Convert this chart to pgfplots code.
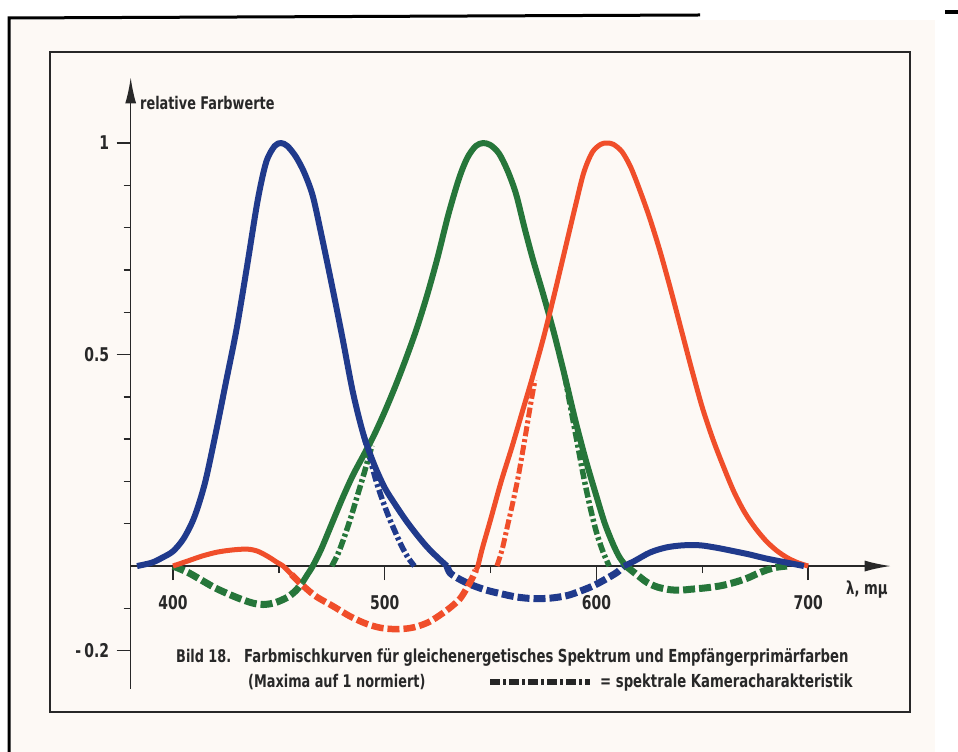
\documentclass[border=0pt]{standalone}
\usepackage{fontspec}
\setmainfont{DejaVu Sans Condensed}[FakeStretch=0.82]
\usepackage{pgfplots}
\usepackage{pgfplotstable}
\pgfplotsset{compat=1.18}
\usetikzlibrary{arrows.meta}
\definecolor{cblue}{RGB}{32,58,140}
\definecolor{cgreen}{RGB}{38,118,58}
\definecolor{cred}{RGB}{240,78,42}
\definecolor{paper}{RGB}{253,249,245}
\definecolor{ink}{RGB}{40,40,40}

\pgfplotstableread{
x y
383 0
390 0.008
395 0.02
400 0.035
405 0.065
410 0.115
415 0.195
420 0.31
425 0.435
430 0.56
435 0.71
440 0.865
444 0.955
448 0.993
451 1.0
454 0.993
458 0.968
462 0.93
466 0.875
470 0.785
475 0.665
480 0.54
485 0.41
490 0.31
495 0.24
500 0.185
505 0.145
510 0.108
515 0.075
520 0.045
525 0.02
529.4 0
}\bluesolidA
\pgfplotstableread{
x y
529.4 0
531 -0.017
536 -0.033
541.7 -0.046
548 -0.057
554.5 -0.065
562 -0.073
570 -0.077
578 -0.076
586 -0.07
592 -0.06
598.4 -0.047
604 -0.032
609.7 -0.015
613 0
}\bluedash
\pgfplotstableread{
x y
613 0
618 0.012
625.3 0.032
633 0.044
641 0.049
649 0.049
657 0.043
665 0.035
672.6 0.027
680 0.018
688 0.01
694 0.004
698 0
}\bluesolidB
\pgfplotstableread{
x y
490 0.31
493 0.255
496 0.2
499 0.155
502 0.115
505 0.08
508 0.047
511 0.02
514 0
}\bluecam
\pgfplotstableread{
x y
400 0
407 -0.015
414 -0.035
420 -0.052
427 -0.068
433 -0.08
438 -0.088
442.5 -0.091
448 -0.087
454 -0.074
458 -0.058
461 -0.04
}\greendashA
\pgfplotstableread{
x y
461 -0.04
463.5 -0.02
466 0
470 0.04
475 0.1
480 0.16
485 0.215
490 0.262
495 0.31
500 0.365
505 0.425
510 0.49
515 0.56
520 0.64
525 0.73
530 0.83
535 0.915
539 0.965
543 0.993
546.5 1.0
550 0.995
554 0.975
558 0.935
562 0.88
566 0.8
570 0.725
575 0.64
580 0.55
585 0.45
590 0.345
595 0.25
600 0.165
604 0.1
608 0.05
611 0.02
614 0
}\greensolid
\pgfplotstableread{
x y
614 0
619 -0.02
624 -0.039
629 -0.05
634.8 -0.056
640 -0.057
644.3 -0.055
651 -0.052
658.4 -0.047
665 -0.039
671.1 -0.029
676 -0.018
680.6 -0.009
685 -0.003
690 0
}\greendashB
\pgfplotstableread{
x y
475 0
478 0.03
481 0.07
484 0.115
487 0.165
490 0.215
492 0.25
494 0.285
}\greencamA
\pgfplotstableread{
x y
585 0.45
588 0.37
591 0.29
594 0.21
597 0.14
600 0.08
603 0.035
606 0
}\greencamB
\pgfplotstableread{
x y
400 0
407 0.012
414 0.024
421 0.033
428 0.038
435 0.04
440 0.035
445 0.022
449 0.009
452 0
456 -0.02
}\redsolidA
\pgfplotstableread{
x y
456 -0.02
460 -0.04
467 -0.07
475.6 -0.095
484 -0.12
491.6 -0.137
498 -0.146
503.9 -0.149
510 -0.148
515.3 -0.143
521 -0.132
526.1 -0.116
531 -0.098
535.6 -0.077
539 -0.05
541.7 -0.025
543 -0.01
}\reddash
\pgfplotstableread{
x y
543 -0.01
544 0
546 0.04
550 0.11
555 0.2
560 0.28
565 0.365
570 0.45
575 0.54
580 0.64
585 0.745
590 0.85
594 0.93
598 0.978
602 0.997
605 1.0
608 0.997
612 0.98
616 0.945
620 0.895
625 0.825
630 0.745
635 0.655
640 0.56
645 0.465
650 0.375
655 0.3
660 0.235
665 0.175
670 0.127
675 0.09
680 0.06
685 0.037
690 0.02
695 0.008
700 0
}\redsolidB
\pgfplotstableread{
x y
553 0
555.5 0.04
558 0.095
560.5 0.15
563 0.21
566 0.295
569 0.385
571 0.44
}\redcam

\begin{document}
\begin{tikzpicture}
\path[use as bounding box] (0bp,0bp) rectangle (958bp,752bp);
\fill[white] (0bp,0bp) rectangle (958bp,752bp);
\fill[paper] (11bp,0bp) rectangle (935bp,732bp);
\draw[line width=3bp, black] (9bp,0bp) -- (9bp,734bp) -- (700bp,737bp);
\fill[black] (945bp,738bp) rectangle (958bp,742bp);
\draw[line width=2.6bp, ink] (50bp,700bp) rectangle (910bp,40bp);

\begin{axis}[
  at={(130.7bp,63.3bp)}, anchor=south west,
  scale only axis, width=760bp, height=611.2bp,
  xmin=380, xmax=739, ymin=-0.29, ymax=1.155,
  enlargelimits=false, clip=false,
  axis x line=middle, axis y line=left,
  axis line style={line width=1.5bp, ink, -{Latex[length=26bp,width=11bp]}},
  tick align=outside,
  xtick={400,500,600,700}, minor xtick={450,550,650},
  ytick={-0.2,0.5,1}, yticklabels={-\,0.2,0.5,1},
  minor ytick={-0.1,0.1,0.2,0.3,0.4,0.6,0.7,0.8,0.9},
  major tick length=14bp, minor tick length=7bp,
  every tick/.style={line width=1.4bp, ink},
  /pgf/number format/assume math mode=true,
  /pgf/number format/1000 sep={},
  xticklabel style={font=\fontsize{19}{21}\selectfont\bfseries, text=ink, yshift=-12bp},
  yticklabel style={font=\fontsize{19}{21}\selectfont\bfseries, text=ink, xshift=-4bp},
]
% negative lobes (dashed) and camera characteristics (dash-dot)
\addplot[cblue, line width=7bp, smooth, tension=0.5, dash pattern=on 12bp off 4bp] table {\bluedash};
\addplot[cgreen, line width=7bp, smooth, tension=0.5, dash pattern=on 12bp off 4bp] table {\greendashA};
\addplot[cgreen, line width=7bp, smooth, tension=0.5, dash pattern=on 12bp off 4bp] table {\greendashB};
\addplot[cred, line width=6.5bp, smooth, tension=0.5, dash pattern=on 12bp off 4bp] table {\reddash};
\addplot[cblue, line width=5.5bp, smooth, tension=0.5, dash pattern=on 10bp off 3bp on 3bp off 3bp] table {\bluecam};
\addplot[cgreen, line width=5.5bp, smooth, tension=0.5, dash pattern=on 10bp off 3bp on 3bp off 3bp] table {\greencamA};
\addplot[cgreen, line width=5.5bp, smooth, tension=0.5, dash pattern=on 10bp off 3bp on 3bp off 3bp] table {\greencamB};
\addplot[cred, line width=5bp, smooth, tension=0.5, dash pattern=on 10bp off 3bp on 3bp off 3bp] table {\redcam};
% colour mixing curves (solid)
\addplot[cgreen, line width=6bp, smooth, tension=0.5, line join=round] table {\greensolid};
\addplot[cred, line width=5bp, smooth, tension=0.5, line join=round] table {\redsolidA};
\addplot[cred, line width=5bp, smooth, tension=0.5, line join=round] table {\redsolidB};
\addplot[cblue, line width=6bp, smooth, tension=0.5, line join=round] table {\bluesolidA};
\addplot[cblue, line width=6bp, smooth, tension=0.5, line join=round] table {\bluesolidB};
\end{axis}

\node[anchor=west, text=ink, font=\fontsize{17.5}{19}\selectfont\bfseries, inner sep=0pt] at (140bp,649bp) {relative Farbwerte};
\node[anchor=west, text=ink, font=\fontsize{18}{20}\selectfont\bfseries, inner sep=0pt] at (846bp,162bp) {λ, mμ};
\node[anchor=base west, text=ink, font=\fontsize{17.5}{19}\selectfont\bfseries, inner sep=0pt] at (176bp,89bp) {Bild 18.};
\node[anchor=base west, text=ink, font=\fontsize{18}{20}\selectfont\bfseries, inner sep=0pt] at (244bp,89bp) {Farbmischkurven für gleichenergetisches Spektrum und Empfängerprimärfarben};
\node[anchor=base west, text=ink, font=\fontsize{17.5}{19}\selectfont\bfseries, inner sep=0pt] at (248bp,64bp) {(Maxima auf 1 normiert)};
\draw[line width=6bp, black!85, dash pattern=on 10bp off 3bp on 3bp off 3bp] (490bp,70bp) -- (590bp,70bp);
\node[anchor=base west, text=ink, font=\fontsize{18}{20}\selectfont\bfseries, inner sep=0pt] at (600bp,64bp) {= spektrale Kameracharakteristik};
\end{tikzpicture}
\end{document}
